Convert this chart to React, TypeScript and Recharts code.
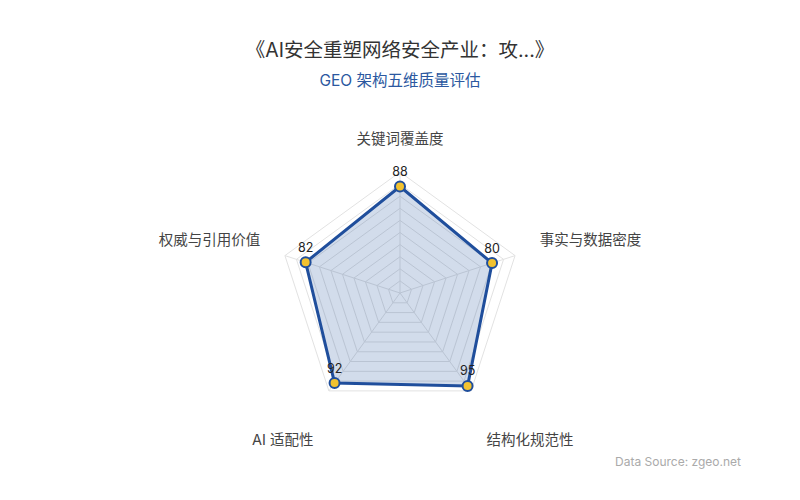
import React from "react";
import { RadarChart, Radar, PolarGrid, PolarAngleAxis, PolarRadiusAxis } from "recharts";

const TITLE = "《AI安全重塑网络安全产业：攻...》";
const SUBTITLE = "GEO 架构五维质量评估";
const SOURCE = "Data Source: zgeo.net";

const dimensions = ["关键词覆盖度", "事实与数据密度", "结构化规范性", "AI 适配性", "权威与引用价值"];
const scores = [88, 80, 95, 92, 82];
const radiusDomain = [0, 100];

const data = dimensions.map((name, i) => ({ name, score: scores[i] }));

const FONT = "Inter, 'Noto Sans CJK SC', sans-serif";
const CX = 400;
const CY = 293;
const R = 121;
const BLUE = "#1f4e9c";

const AngleTick = (props: any) => {
  const { payload } = props;
  const ang = (payload.coordinate * Math.PI) / 180;
  const ux = Math.cos(ang);
  const uy = -Math.sin(ang);
  const d = 147;
  let x = CX + ux * d;
  let y = CY + uy * d;
  let anchor: "start" | "end" | "middle" = "middle";
  if (ux > 0.1) anchor = "start";
  else if (ux < -0.1) anchor = "end";
  if (uy < 0) y = y - 8;
  else y = y + 28;
  return (
    <text x={x} y={y} textAnchor={anchor} dominantBaseline="central" fontSize={14.5} fill="#444" fontFamily={FONT}>
      {payload.value}
    </text>
  );
};

const Dot = (props: any) => {
  const { cx, cy, payload } = props;
  return (
    <g>
      <circle cx={cx} cy={cy} r={5} fill="#f2c230" stroke={BLUE} strokeWidth={2} />
      <text x={cx} y={cy - 15} textAnchor="middle" dominantBaseline="central" fontSize={12.5} fill="#222" fontFamily={FONT}>
        {payload.score}
      </text>
    </g>
  );
};

export default function App() {
  return (
    <div style={{ position: "fixed", left: 0, top: 0, width: 800, height: 500, background: "#fff", fontFamily: FONT }}>
      <div style={{ position: "absolute", left: 0, width: 800, top: 37, textAlign: "center", fontSize: 19.5, color: "#333", lineHeight: "26px" }}>
        {TITLE}
      </div>
      <div style={{ position: "absolute", left: 0, width: 800, top: 71, textAlign: "center", fontSize: 15.5, color: "#2b58a0", lineHeight: "20px" }}>
        {SUBTITLE}
      </div>
      <div style={{ position: "absolute", right: 59, top: 454, fontSize: 12, color: "#aaa", lineHeight: "16px" }}>
        {SOURCE}
      </div>
      <div style={{ position: "absolute", left: 0, top: 0 }}>
        <RadarChart width={800} height={500} data={data} cx={CX} cy={CY} outerRadius={R} margin={{ top: 0, right: 0, bottom: 0, left: 0 }}>
          <PolarGrid gridType="polygon" stroke="#e2e2e2" />
          <PolarRadiusAxis domain={radiusDomain as any} tickCount={11} tick={false} axisLine={false} />
          <PolarAngleAxis dataKey="name" tick={AngleTick} tickLine={false} axisLine={false} />
          <Radar
            dataKey="score"
            stroke={BLUE}
            strokeWidth={3}
            fill={BLUE}
            fillOpacity={0.2}
            dot={Dot}
            isAnimationActive={false}
          />
        </RadarChart>
      </div>
    </div>
  );
}
